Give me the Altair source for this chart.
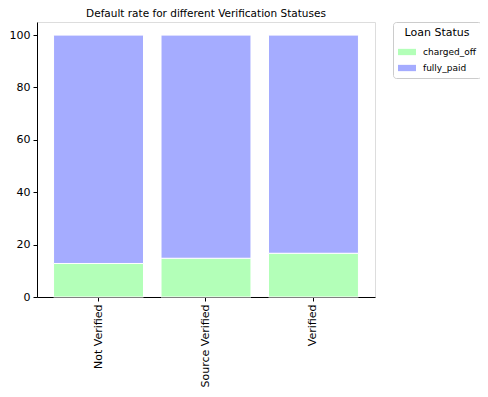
import altair as alt
import pandas as pd

categories = ["Not Verified", "Source Verified", "Verified"]
charged_off = [12.8, 14.8, 16.7]
fully_paid = [100 - v for v in charged_off]
statuses = ["charged_off", "fully_paid"]
colors = ["#b3ffb8", "#a5acff"]

rows = []
for c, co, fp in zip(categories, charged_off, fully_paid):
    rows.append({"cat": c, "status": "charged_off", "value": co, "order": 0})
    rows.append({"cat": c, "status": "fully_paid", "value": fp, "order": 1})
df = pd.DataFrame(rows)

chart = alt.Chart(df).mark_bar(stroke="white", strokeWidth=1).encode(
    x=alt.X("cat:N", sort=categories, title=None,
            scale=alt.Scale(paddingInner=0.163, paddingOuter=0.154),
            axis=alt.Axis(labelAngle=-90, labelFontSize=11, labelColor="black",
                          tickColor="black", domainColor="black", tickSize=4,
                          labelPadding=3, grid=False)),
    y=alt.Y("value:Q", stack="zero", title=None,
            scale=alt.Scale(domain=[0, 105], nice=False),
            axis=alt.Axis(values=[0, 20, 40, 60, 80, 100], labelFontSize=11,
                          labelColor="black", tickColor="black", domainColor="black",
                          tickSize=4, labelPadding=3, grid=False)),
    color=alt.Color("status:N", sort=statuses,
                    scale=alt.Scale(domain=statuses, range=colors),
                    legend=alt.Legend(title="Loan Status", orient="none",
                                      legendX=356, legendY=0,
                                      titleFontSize=11, titleFontWeight="normal",
                                      labelFontSize=9, titleColor="black", labelColor="black",
                                      fillColor="white", strokeColor="#cccccc",
                                      cornerRadius=3, padding=5, labelOffset=7,
                                      symbolType="M-1,-0.35H1V0.35H-1Z",
                                      symbolSize=324, symbolStrokeWidth=0,
                                      titleAnchor="middle", rowPadding=2)),
    order=alt.Order("order:Q"),
).properties(
    width=338, height=275,
    title=alt.TitleParams("Default rate for different Verification Statuses",
                          fontSize=10.5, fontWeight="normal", color="black", offset=2),
    autosize="none",
    padding={"left": 29, "top": 14, "right": 105, "bottom": 90},
).configure_view(stroke="black", strokeWidth=1).configure(font="DejaVu Sans")

chart.save("out.html", embed_options={"renderer": "svg", "actions": False})
